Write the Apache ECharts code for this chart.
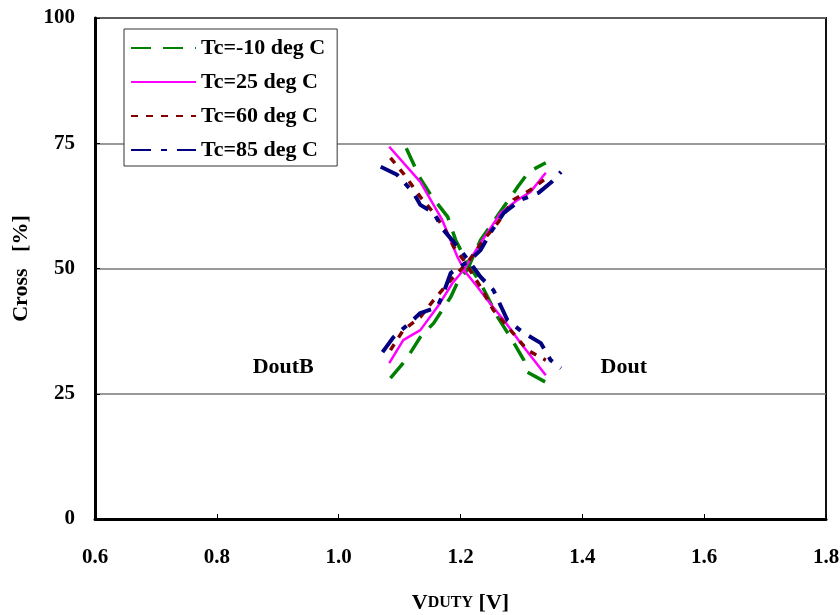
<!DOCTYPE html>
<html><head><meta charset="utf-8">
<script src="https://cdn.jsdelivr.net/npm/echarts@6/dist/echarts.min.js"></script>
<style>html,body{margin:0;padding:0;background:#fff}#c{width:840px;height:615px}</style>
</head><body><div id="c"></div>
<script>
var xTicks = ['0.6','0.8','1.0','1.2','1.4','1.6','1.8'];
var yTicks = ['0','25','50','75','100'];
var legendNames = ['Tc=-10 deg C','Tc=25 deg C','Tc=60 deg C','Tc=85 deg C'];
var annotations = ['DoutB','Dout'];

// Tc=-10 deg C
var m10Dout  = [[1.111,74.0],[1.134,68.0],[1.151,64.7],[1.179,60.3],[1.192,55.7],[1.211,51.1],[1.233,47.1],[1.261,40.3],[1.282,36.3],[1.304,31.7],[1.310,29.3],[1.340,27.3]];
var m10DoutB = [[1.085,28.1],[1.110,31.7],[1.134,36.3],[1.156,39.1],[1.184,44.3],[1.197,47.7],[1.211,49.7],[1.233,55.7],[1.271,62.3],[1.294,66.3],[1.312,69.3],[1.340,71.1]];
// Tc=25 deg C
var p25Dout  = [[1.083,74.3],[1.134,67.3],[1.170,59.7],[1.195,52.3],[1.208,49.3],[1.228,46.3],[1.244,43.7],[1.271,39.7],[1.299,35.1],[1.340,28.7]];
var p25DoutB = [[1.083,31.1],[1.106,35.7],[1.134,37.7],[1.162,42.3],[1.187,47.1],[1.205,49.7],[1.233,55.1],[1.266,61.1],[1.294,63.7],[1.315,65.3],[1.340,69.1]];
// Tc=60 deg C
var p60Dout  = [[1.085,72.1],[1.106,69.0],[1.134,64.3],[1.156,61.1],[1.175,57.7],[1.189,54.3],[1.205,51.7],[1.233,46.3],[1.254,41.7],[1.282,37.7],[1.310,33.7],[1.340,31.7]];
var p60DoutB = [[1.085,33.7],[1.106,37.7],[1.134,40.3],[1.156,43.7],[1.184,47.7],[1.211,51.1],[1.238,55.7],[1.261,59.1],[1.287,63.7],[1.315,65.7],[1.337,67.7]];
// Tc=85 deg C
var p85Dout  = [[1.069,70.3],[1.096,68.7],[1.123,65.1],[1.134,62.7],[1.156,61.1],[1.172,57.7],[1.200,53.7],[1.216,51.1],[1.233,48.3],[1.254,45.7],[1.277,39.7],[1.304,37.1],[1.332,35.1],[1.348,31.7],[1.365,30.1]];
var p85DoutB = [[1.072,33.3],[1.090,36.3],[1.118,39.3],[1.134,41.1],[1.162,42.3],[1.172,45.1],[1.184,49.1],[1.216,51.7],[1.233,53.7],[1.249,57.1],[1.271,61.1],[1.299,63.7],[1.328,65.1],[1.348,67.1],[1.365,69.3]];

var styles = [
  {color:'#008000', width:3.5, type:[20,12]},
  {color:'#ff00ff', width:2.5, type:'solid'},
  {color:'#800000', width:3.5, type:[7,8]},
  {color:'#000080', width:4, type:[20,10,6,10]}
];
var groups = [[m10Dout,m10DoutB],[p25Dout,p25DoutB],[p60Dout,p60DoutB],[p85Dout,p85DoutB]];
var series = [];
groups.forEach(function(g,i){
  g.forEach(function(d){
    series.push({type:'line', name:legendNames[i], data:d, showSymbol:false, symbol:'none',
      lineStyle:{color:styles[i].color, width:styles[i].width, type:styles[i].type},
      itemStyle:{color:styles[i].color}, z:3+i, animation:false});
  });
});

var font = 'Liberation Serif, Times New Roman, serif';
var chart = echarts.init(document.getElementById('c'));
chart.setOption({
  animation:false,
  backgroundColor:'#fff',
  grid:{left:95, right:14, top:18, bottom:96, outerBoundsMode:'none', containLabel:false,
    show:true, borderColor:'#111', borderWidth:2, backgroundColor:'transparent'},
  legend:{
    data:legendNames, orient:'vertical', left:124, top:29,
    itemWidth:65, itemHeight:12, itemGap:12,
    itemStyle:{opacity:0},
    backgroundColor:'#fff', borderColor:'#333', borderWidth:1, padding:[8,12,5,6],
    textStyle:{fontFamily:font, fontWeight:'bold', fontSize:22, lineHeight:22, color:'#000'}
  },
  xAxis:{type:'value', min:0.6, max:1.8, interval:0.2,
    axisLine:{lineStyle:{color:'#000', width:3}},
    axisTick:{inside:true, length:5, lineStyle:{color:'#000', width:1}},
    splitLine:{show:false},
    axisLabel:{margin:28, fontFamily:font, fontWeight:'bold', fontSize:21, color:'#000',
      formatter:function(v){var s=v.toFixed(1); return xTicks.indexOf(s)>=0?s:'';}},
    name:'{a|V}{b|DUTY}{a| [V]}', nameLocation:'middle', nameGap:73,
    nameTextStyle:{rich:{a:{fontFamily:font, fontWeight:'bold', fontSize:22, color:'#000'},
                          b:{fontFamily:font, fontWeight:'bold', fontSize:16, color:'#000'}}}
  },
  yAxis:{type:'value', min:0, max:100, interval:25,
    axisLine:{lineStyle:{color:'#000', width:3}},
    axisTick:{inside:true, length:5, lineStyle:{color:'#000', width:1}},
    splitLine:{lineStyle:{color:'#777', width:1.5}},
    axisLabel:{margin:20, fontFamily:font, fontWeight:'bold', fontSize:21, color:'#000',
      formatter:function(v){return yTicks.indexOf(String(v))>=0?String(v):'';}},
    name:'Cross   [%]', nameLocation:'middle', nameGap:60,
    nameTextStyle:{fontFamily:font, fontWeight:'bold', fontSize:22, color:'#000'}
  },
  series:series
});
var p1 = chart.convertToPixel({gridIndex:0},[0.909,30.2]);
var p2 = chart.convertToPixel({gridIndex:0},[1.468,30.2]);
chart.setOption({graphic:[
  {type:'text', x:p1[0], y:p1[1], style:{text:annotations[0], font:'bold 22px '+font, fill:'#000', textAlign:'center', textVerticalAlign:'middle'}},
  {type:'text', x:p2[0], y:p2[1], style:{text:annotations[1], font:'bold 22px '+font, fill:'#000', textAlign:'center', textVerticalAlign:'middle'}}
]});
</script></body></html>
